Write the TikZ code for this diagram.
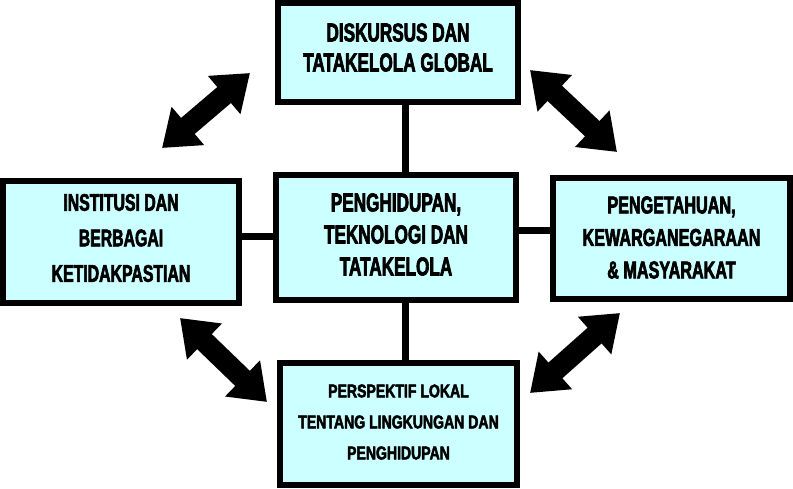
\documentclass[tikz,border=0pt]{standalone}
\usepackage{fontspec}
\setmainfont{Liberation Sans}[FakeStretch=0.66, BoldFeatures={FakeBold=2.5}]
\newfontfamily\condB{Liberation Sans}[FakeStretch=0.76, BoldFeatures={FakeBold=2.5}]
\usetikzlibrary{arrows.meta,backgrounds}
\definecolor{boxfill}{RGB}{204,255,255}
\tikzset{
  box/.style={draw=black, line width=6pt, fill=boxfill, inner sep=0pt},
  boxtext/.style={inner sep=0pt, align=center},
  link/.style={line width=7pt, draw=black},
  dblarrow/.style={line width=21pt, draw=black,
    {Triangle[width=48pt,length=34pt]}-{Triangle[width=48pt,length=34pt]}}
}
\begin{document}
\begin{tikzpicture}[x=1pt,y=-1pt]
\useasboundingbox (0,0) rectangle (793,489);
% boxes
\node[box, minimum width=240pt, minimum height=99pt] (top) at (398,52.5) {};
\node[box, minimum width=240pt, minimum height=125pt] (center) at (396,237.5) {};
\node[box, minimum width=236pt, minimum height=122pt] (left) at (121,242) {};
\node[box, minimum width=237pt, minimum height=121pt] (right) at (671.5,238.5) {};
\node[box, minimum width=237pt, minimum height=122pt] (bottom) at (398.5,424) {};
% texts
\node[boxtext, font=\bfseries\fontsize{26}{30}\selectfont] (topt) at ([yshift=5pt]top.center)
  {DISKURSUS DAN\\TATAKELOLA GLOBAL};
\node[boxtext, font=\bfseries\fontsize{26}{32}\selectfont] (centert) at ([yshift=3pt]center.center)
  {PENGHIDUPAN,\\TEKNOLOGI DAN\\TATAKELOLA};
\node[boxtext, font=\bfseries\fontsize{24}{35.5}\selectfont] (leftt) at ([yshift=4pt]left.center)
  {INSTITUSI DAN\\BERBAGAI\\KETIDAKPASTIAN};
\node[boxtext, font=\bfseries\fontsize{24.5}{32.5}\selectfont] (rightt) at ([yshift=1pt]right.center)
  {PENGETAHUAN,\\KEWARGANEGARAAN\\\&~MASYARAKAT};
\node[boxtext, font=\condB\bfseries\fontsize{18.5}{31}\selectfont] (bottomt) at ([yshift=2pt]bottom.center)
  {PERSPEKTIF LOKAL\\TENTANG LINGKUNGAN DAN\\PENGHIDUPAN};
% links
\begin{pgfonlayer}{background}
\draw[link] ([xshift=7pt,yshift=5pt]top.south) -- ([xshift=9pt,yshift=-5pt]center.north);
\draw[link] ([xshift=9pt,yshift=5pt]center.south) -- ([xshift=6.5pt,yshift=-5pt]bottom.north);
\draw[link] ([xshift=-5pt,yshift=5.5pt]left.east) -- ([xshift=5pt,yshift=1pt]center.west);
\draw[link] ([xshift=-5pt,yshift=6.5pt]center.east) -- ([xshift=5pt,yshift=7.5pt]right.west);
\end{pgfonlayer}
% double arrows
\coordinate (tl1) at (162,148); \coordinate (tl2) at (250,73);
\coordinate (tr1) at (530,70);  \coordinate (tr2) at (617,152);
\coordinate (bl1) at (180,318); \coordinate (bl2) at (267,402);
\coordinate (br1) at (530,393); \coordinate (br2) at (620,313);
\draw[dblarrow] (tl1) -- (tl2);
\draw[dblarrow] (tr1) -- (tr2);
\draw[dblarrow] (bl1) -- (bl2);
\draw[dblarrow] (br1) -- (br2);
\end{tikzpicture}
\end{document}
